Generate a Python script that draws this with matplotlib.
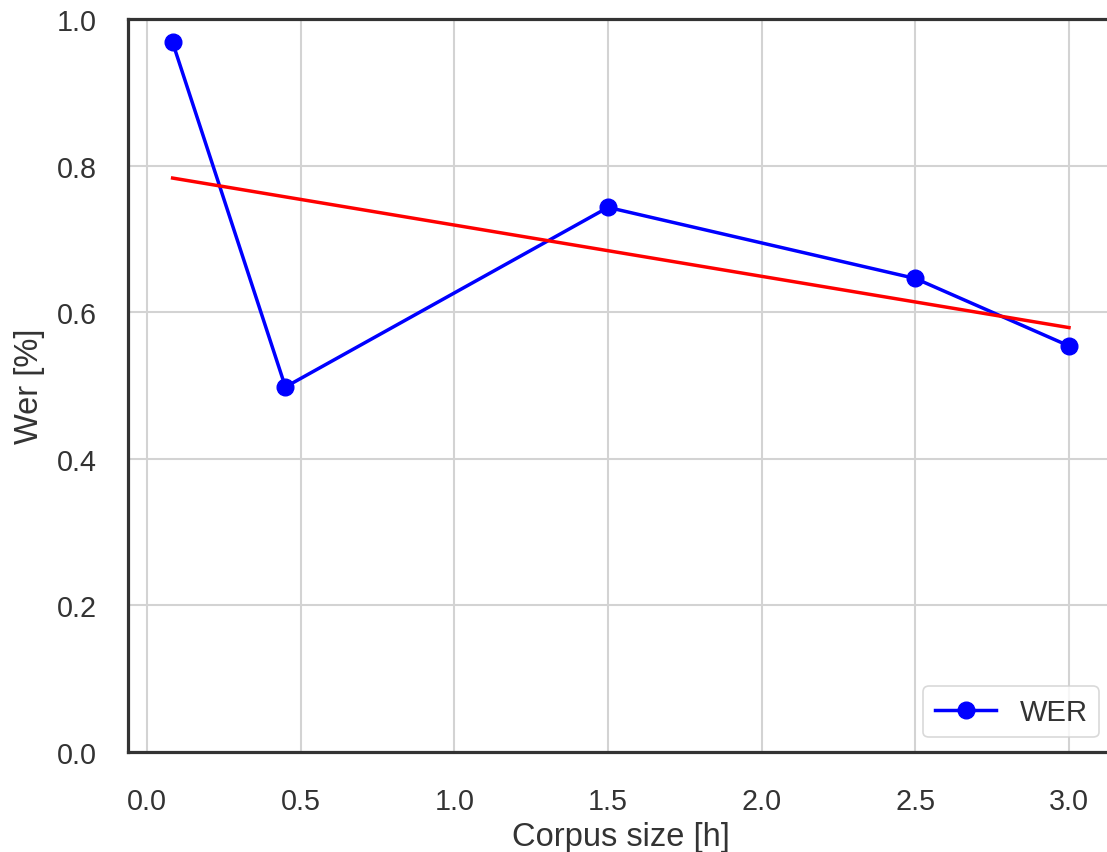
import matplotlib
matplotlib.use("Agg")
import matplotlib.pyplot as plt

# corpus size in hours vs. word error rate
corpus_hours = [0.083, 0.45, 1.5, 2.5, 3.0]
wer = [0.968, 0.498, 0.743, 0.646, 0.554]

# linear trend line (endpoints)
trend_hours = [0.083, 3.0]
trend_wer = [0.783, 0.579]

plt.rcParams["font.family"] = ["Liberation Sans", "DejaVu Sans"]
TEXT = "#333333"

fig = plt.figure(figsize=(11.07, 8.53), dpi=100)
ax = fig.add_axes([127.8 / 1107, 100 / 853, (1113.8 - 127.8) / 1107, 733 / 853])

ax.plot(corpus_hours, wer, color="blue", lw=2.5, marker="o", ms=12, label="WER")
ax.plot(trend_hours, trend_wer, color="red", lw=2.5)

ax.set_ylim(0, 1.0)
ax.set_xticks([0.0, 0.5, 1.0, 1.5, 2.0, 2.5, 3.0])
ax.set_yticks([0.0, 0.2, 0.4, 0.6, 0.8, 1.0])
ax.grid(True, color="#d3d3d3", lw=1.5)
ax.set_axisbelow(True)

for sp in ax.spines.values():
    sp.set_color("#333333")
    sp.set_linewidth(2.3)

ax.tick_params(length=0, labelsize=20.7, labelcolor=TEXT)
ax.tick_params(axis="x", pad=25)
ax.tick_params(axis="y", pad=22)
ax.set_xlabel("Corpus size [h]", fontsize=23.5, color=TEXT, labelpad=4.5)
ax.set_ylabel("Wer [%]", fontsize=23.5, color=TEXT, labelpad=8.5)

leg = ax.legend(loc="lower right", fontsize=21, frameon=True, fancybox=True,
                handlelength=2.1, borderaxespad=0.5)
leg.get_frame().set_edgecolor("#d0d0d0")
leg.get_frame().set_linewidth(1.2)
for t in leg.get_texts():
    t.set_color(TEXT)

fig.savefig("out.png", dpi=100)
